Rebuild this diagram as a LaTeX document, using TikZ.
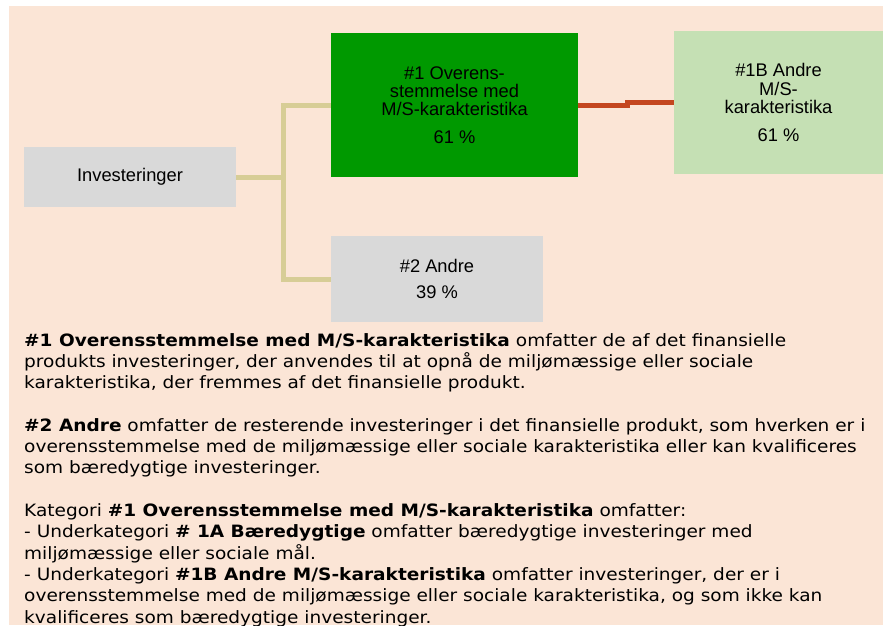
\documentclass[tikz,border=0pt]{standalone}
\usepackage{fontspec}
\setmainfont{Liberation Sans}
\newfontfamily\bodyfont[FakeStretch=1.09]{DejaVu Sans}
\definecolor{peach}{HTML}{FBE5D6}
\definecolor{boxgray}{HTML}{D9D9D9}
\definecolor{msgreen}{HTML}{009900}
\definecolor{lightgreen}{HTML}{C5E0B4}
\definecolor{tanline}{HTML}{D7CD96}
\definecolor{rustline}{HTML}{C4461F}

\begin{document}
\begin{tikzpicture}[x=1pt, y=-1pt,
  box/.style={inner sep=0pt, align=center, font=\fontsize{18.3}{18.3}\selectfont},
  link/.style={tanline, line width=5pt},
  sublink/.style={rustline, line width=5pt}]

\useasboundingbox (0,0) rectangle (883,625);
\fill[peach] (9,6) rectangle (883,625);

% boxes
\node[box, fill=boxgray, minimum width=212pt, minimum height=60pt] (inv) at (130,177) {Investeringer};
\node[box, fill=msgreen, minimum width=247pt, minimum height=144pt] (ms) at (454.5,105)
  {\#1 Overens-\\stemmelse med\\M/S-karakteristika\\[9.4pt]61 \%};
\node[box, fill=lightgreen, minimum width=209pt, minimum height=143pt] (msb) at (778.5,102.5)
  {\#1B Andre\\M/S-\\karakteristika\\[9.4pt]61 \%};
\node[box, fill=boxgray, minimum width=212pt, minimum height=86pt] (other) at (437,279)
  {\#2 Andre\\[8.4pt]39 \%};

% connectors
\coordinate (fork) at (283.5,177);
\draw[link] (inv.east) -- (fork);
\draw[link] (ms.west) -| (fork) |- (other.west);
\draw[sublink] (ms.east) -- ++(49,0) |- (msb.west);

% notes
\node[anchor=north west, inner sep=0pt, align=left,
  font=\bodyfont\fontsize{17}{21.3}\selectfont] (notes) at (24,333)
  {\textbf{\#1 Overensstemmelse med M/S-karakteristika} omfatter de af det finansielle\\
   produkts investeringer, der anvendes til at opnå de miljømæssige eller sociale\\
   karakteristika, der fremmes af det finansielle produkt.\\[21.3pt]
   \textbf{\#2 Andre} omfatter de resterende investeringer i det finansielle produkt, som hverken er i\\
   overensstemmelse med de miljømæssige eller sociale karakteristika eller kan kvalificeres\\
   som bæredygtige investeringer.\\[21.3pt]
   Kategori \textbf{\#1 Overensstemmelse med M/S-karakteristika} omfatter:\\
   - Underkategori \textbf{\# 1A Bæredygtige} omfatter bæredygtige investeringer med\\
   miljømæssige eller sociale mål.\\
   - Underkategori \textbf{\#1B Andre M/S-karakteristika} omfatter investeringer, der er i\\
   overensstemmelse med de miljømæssige eller sociale karakteristika, og som ikke kan\\
   kvalificeres som bæredygtige investeringer.};

\end{tikzpicture}
\end{document}
